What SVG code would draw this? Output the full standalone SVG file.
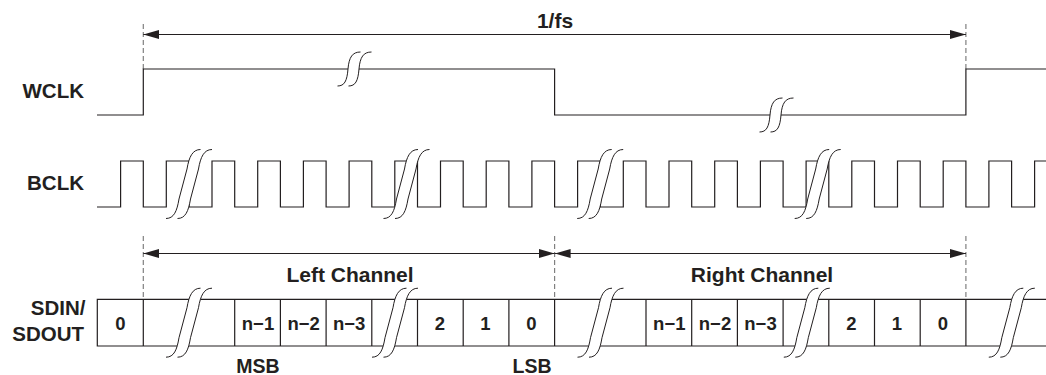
<svg xmlns="http://www.w3.org/2000/svg" xmlns:xlink="http://www.w3.org/1999/xlink" width="1046" height="375" viewBox="0 0 1046 375">
<style>
.t{font-family:"Liberation Sans",Arial,Helvetica,sans-serif;font-weight:bold;fill:#231f20}
.lbl{font-size:20.5px;text-anchor:end}
.ch{font-size:21px;text-anchor:middle}
.cell{font-size:18.5px;text-anchor:middle}
.ms{font-size:19.5px;text-anchor:middle}
.w{fill:none;stroke:#231f20;stroke-width:1.2;stroke-linejoin:miter}
.d{fill:none;stroke:#808080;stroke-width:1.2;stroke-dasharray:5,3}
.a{fill:none;stroke:#231f20;stroke-width:1.2}
.band{fill:#ffffff;stroke:none}
.cv{fill:none;stroke:#231f20;stroke-width:1}
</style>
<defs>
<marker id="ah" viewBox="0 0 16 9" refX="16" refY="4.5" markerWidth="16" markerHeight="9" markerUnits="userSpaceOnUse" orient="auto-start-reverse">
<path d="M0,0 L16,4.5 L0,9 Z" fill="#231f20"/>
</marker>
<g id="brkL">
<path class="band" d="M-17,34.5 C-9,34.5 -6,27 -4,15 L4,-15 C6,-27 9.5,-34.5 17.5,-34.5 L29,-34.5 C21,-34.5 17.5,-27 15.5,-15 L7.5,15 C5.5,27 2.5,34.5 -5.5,34.5 Z"/>
<path class="cv" d="M-17,34.5 C-9,34.5 -6,27 -4,15 L4,-15 C6,-27 9.5,-34.5 17.5,-34.5"/>
<path class="cv" d="M-5.5,34.5 C2.5,34.5 5.5,27 7.5,15 L15.5,-15 C17.5,-27 21,-34.5 29,-34.5"/>
</g>
<g id="brkS">
<path class="band" d="M-11,17 C-4,17 -1.5,12 -0.5,0 C0.5,-12 4,-17 12,-17 L23,-17 C15,-17 11.5,-12 10.5,0 C9.5,12 7,17 0,17 Z"/>
<path class="cv" d="M-11,17 C-4,17 -1.5,12 -0.5,0 C0.5,-12 4,-17 12,-17"/>
<path class="cv" d="M0,17 C7,17 9.5,12 10.5,0 C11.5,-12 15,-17 23,-17"/>
</g>
</defs>
<rect width="1046" height="375" fill="#ffffff"/>

<g id="labels">
<text class="t lbl" x="84" y="98.3">WCLK</text>
<text class="t lbl" x="84" y="190">BCLK</text>
<text class="t lbl" x="85.5" y="315">SDIN/</text>
<text class="t lbl" x="84" y="340.7">SDOUT</text>
</g>

<g id="guides">
<line class="d" x1="143.3" y1="24" x2="143.3" y2="69"/>
<line class="d" x1="965.9" y1="24" x2="965.9" y2="69"/>
<line class="d" x1="143.3" y1="236" x2="143.3" y2="299.3"/>
<line class="d" x1="554.6" y1="236" x2="554.6" y2="299.3"/>
<line class="d" x1="965.9" y1="236" x2="965.9" y2="299.3"/>
</g>

<g id="connectors">
<line class="a" x1="143.3" y1="34.5" x2="965.9" y2="34.5" marker-start="url(#ah)" marker-end="url(#ah)"/>
<line class="a" x1="143.3" y1="253.5" x2="554.6" y2="253.5" marker-start="url(#ah)" marker-end="url(#ah)"/>
<line class="a" x1="554.6" y1="253.5" x2="965.9" y2="253.5" marker-start="url(#ah)" marker-end="url(#ah)"/>
</g>
<text class="t ch" x="555" y="28">1/fs</text>
<text class="t ch" x="350" y="282">Left Channel</text>
<text class="t ch" x="762" y="282">Right Channel</text>

<g id="wclk">
<path class="w" d="M97,115 H143.3 V69 H554.6 V115 H965.9 V69 H1046"/>
<use xlink:href="#brkS" x="348.5" y="69"/>
<use xlink:href="#brkS" x="770.5" y="115"/>
</g>

<g id="bclk">
<path class="w" d="M97,207 H120.6 V161 H143.3 V207 H166.3 V161 H189 V207 H212 V161 H234.7 V207 H257.7 V161 H280.4 V207 H303.4 V161 H326.1 V207 H349.1 V161 H371.8 V207 H394.8 V161 H417.5 V207 H440.5 V161 H463.2 V207 H486.2 V161 H508.9 V207 H531.9 V161 H554.6 V207 H577.6 V161 H600.3 V207 H623.3 V161 H646 V207 H669 V161 H691.7 V207 H714.7 V161 H737.4 V207 H760.4 V161 H783.1 V207 H806.1 V161 H828.8 V207 H851.8 V161 H874.5 V207 H897.5 V161 H920.2 V207 H943.2 V161 H965.9 V207 H988.9 V161 H1011.6 V207 H1034.6 V161 H1046"/>
<use xlink:href="#brkL" x="183" y="184"/>
<use xlink:href="#brkL" x="400.5" y="184"/>
<use xlink:href="#brkL" x="594.2" y="184"/>
<use xlink:href="#brkL" x="811.7" y="184"/>
</g>

<g id="sdin">
<path class="w" d="M1046,299.3 H97.3 V346 H1046"/>
<path class="w" d="M143.3,299.3 V346 M234.7,299.3 V346 M280.4,299.3 V346 M326.1,299.3 V346 M371.8,299.3 V346 M417.5,299.3 V346 M463.2,299.3 V346 M508.9,299.3 V346 M554.6,299.3 V346 M646,299.3 V346 M691.7,299.3 V346 M737.4,299.3 V346 M783.1,299.3 V346 M828.8,299.3 V346 M874.5,299.3 V346 M920.2,299.3 V346 M965.9,299.3 V346"/>
<use xlink:href="#brkL" x="183" y="322.7"/>
<use xlink:href="#brkL" x="389" y="322.7"/>
<use xlink:href="#brkL" x="594.5" y="322.7"/>
<use xlink:href="#brkL" x="800.8" y="322.7"/>
<use xlink:href="#brkL" x="1005.8" y="322.7"/>
<text class="t cell" x="120.3" y="330">0</text>
<text class="t cell" x="258" y="330">n−1</text>
<text class="t cell" x="303.7" y="330">n−2</text>
<text class="t cell" x="349.2" y="330">n−3</text>
<text class="t cell" x="440" y="330">2</text>
<text class="t cell" x="485.5" y="330">1</text>
<text class="t cell" x="531.4" y="330">0</text>
<text class="t cell" x="669.3" y="330">n−1</text>
<text class="t cell" x="715" y="330">n−2</text>
<text class="t cell" x="760.5" y="330">n−3</text>
<text class="t cell" x="851.4" y="330">2</text>
<text class="t cell" x="897" y="330">1</text>
<text class="t cell" x="942.8" y="330">0</text>
<text class="t ms" x="258" y="372.5">MSB</text>
<text class="t ms" x="532" y="372.5">LSB</text>
</g>
</svg>
